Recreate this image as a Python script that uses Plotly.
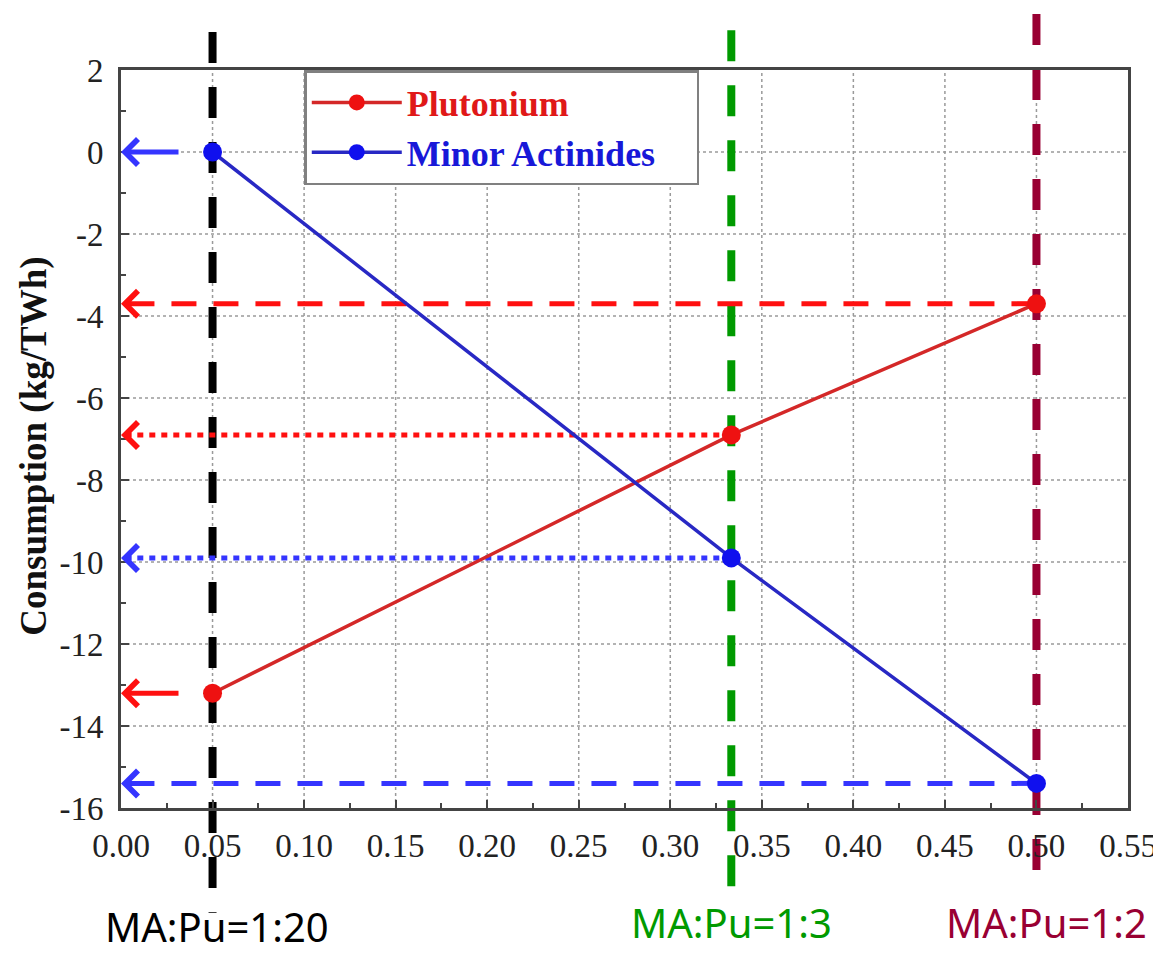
import plotly.graph_objects as go

# ---- data ----
ratio = [0.05, 1/3, 0.5]
plutonium = [-13.2, -6.9, -3.7]
minor_actinides = [0.0, -9.9, -15.4]
ratio_labels = ["MA:Pu=1:20", "MA:Pu=1:3", "MA:Pu=1:2"]
x_ticks = [0.00, 0.05, 0.10, 0.15, 0.20, 0.25, 0.30, 0.35, 0.40, 0.45, 0.50, 0.55]
y_ticks = [2, 0, -2, -4, -6, -8, -10, -12, -14, -16]

# ---- styles ----
RED_LINE, RED_MK = "#d42828", "#ee1111"
BLUE_LINE, BLUE_MK = "#2828c4", "#1010ee"
ARROW_RED, ARROW_BLUE = "#ff1010", "#3535ff"
VCOLORS = ["#000000", "#009a00", "#990033"]
VTOP = [1.0515, 1.054, 1.076]
VBOT = [-0.142, -0.108, -0.108]
LABEL_X_SHIFT = [4, 0, 10]
LABEL_Y = [-0.2, -0.195, -0.195]
GRID = dict(color="#9a9a9a", width=1.5, dash="dot")

fig = go.Figure()

fig.add_trace(go.Scatter(
    x=ratio, y=plutonium, mode="lines+markers",
    name="<span style='color:#e01818'><b>Plutonium</b></span>",
    line=dict(color=RED_LINE, width=3.5),
    marker=dict(color=RED_MK, size=19),
))
fig.add_trace(go.Scatter(
    x=ratio, y=minor_actinides, mode="lines+markers",
    name="<span style='color:#1818d8'><b>Minor Actinides</b></span>&nbsp;&nbsp;&nbsp;&nbsp;",
    line=dict(color=BLUE_LINE, width=3.5),
    marker=dict(color=BLUE_MK, size=19),
))

shapes = []
# grid lines (drawn first, lowest)
for xv in x_ticks[1:-1]:
    shapes.append(dict(type="line", xref="x", yref="paper", x0=xv, x1=xv, y0=0, y1=1,
                       line=GRID, layer="below"))
for yv in y_ticks[1:-1]:
    shapes.append(dict(type="line", xref="paper", yref="y", x0=0, x1=1, y0=yv, y1=yv,
                       line=GRID, layer="below"))

# vertical ratio lines
for xv, col, t, b in zip(ratio, VCOLORS, VTOP, VBOT):
    shapes.append(dict(type="line", xref="x", yref="paper", x0=xv, x1=xv, y0=t, y1=b,
                       line=dict(color=col, width=8, dash="31px,24px"), layer="below"))

# horizontal guide lines from points to the y axis
guides = [
    (ratio[2], plutonium[2], ARROW_RED, "25px,17px"),
    (ratio[1], plutonium[1], ARROW_RED, "6px,6px"),
    (ratio[1], minor_actinides[1], ARROW_BLUE, "6px,6px"),
    (ratio[2], minor_actinides[2], ARROW_BLUE, "25px,17px"),
]
annotations = []
for xv, yv, col, dash in guides:
    shapes.append(dict(type="line", xref="x", yref="y", x0=xv, x1=0, y0=yv, y1=yv,
                       line=dict(color=col, width=5, dash=dash), layer="below"))
    annotations.append(dict(x=0, y=yv, xref="x", yref="y", ax=12, ay=0, text="",
                            showarrow=True, arrowhead=4, arrowsize=1.0, arrowwidth=5,
                            arrowcolor=col, standoff=0))

# short solid arrows for the first points
for yv, col in [(minor_actinides[0], ARROW_BLUE), (plutonium[0], ARROW_RED)]:
    annotations.append(dict(x=0, y=yv, xref="x", yref="y", ax=59, ay=0, text="",
                            showarrow=True, arrowhead=4, arrowsize=1.0, arrowwidth=5,
                            arrowcolor=col, standoff=0))

# ratio labels
for xv, lab, col, dx, ly in zip(ratio, ratio_labels, VCOLORS, LABEL_X_SHIFT, LABEL_Y):
    annotations.append(dict(x=xv, y=ly, xref="x", yref="paper", text=lab, showarrow=False,
                            xanchor="center", yanchor="bottom", xshift=dx,
                            font=dict(family="Noto Sans", size=40, color=col)))

# y-axis title
annotations.append(dict(x=-0.086, y=0.49, xref="paper", yref="paper",
                        text="<b>Consumption (kg/TWh)</b>", textangle=-90, showarrow=False,
                        xanchor="center", yanchor="middle",
                        font=dict(family="Liberation Serif", size=37, color="#111111")))

axis_common = dict(
    showline=True, linecolor="#444444", linewidth=3, mirror=True,
    ticks="inside", ticklen=8, tickwidth=2, tickcolor="#444444",
    showgrid=False, zeroline=False,
    tickfont=dict(family="Liberation Serif", size=33, color="#222222"),
    minor=dict(ticks="inside", ticklen=5, tickwidth=2, tickcolor="#444444", showgrid=False),
)

fig.update_layout(
    width=1161, height=955,
    margin=dict(l=113, r=33, t=62, b=155),
    paper_bgcolor="white", plot_bgcolor="white",
    xaxis=dict(range=[0, 0.55], tickvals=x_ticks, ticktext=[f"{v:.2f}" for v in x_ticks],
               ticklabelstandoff=6, **axis_common),
    yaxis=dict(range=[-16, 2], tickvals=y_ticks, ticktext=[str(v) for v in y_ticks],
               ticklabelstandoff=8, **axis_common),
    showlegend=True,
    legend=dict(x=0.182, y=1.0, xanchor="left", yanchor="top",
                bgcolor="white", bordercolor="#808080", borderwidth=2.5,
                itemwidth=90, font=dict(family="Liberation Serif", size=36),
                tracegroupgap=0),
    shapes=shapes,
    annotations=annotations,
)
fig.update_xaxes(minor=dict(dtick=0.025))
fig.update_yaxes(minor=dict(dtick=1))

fig.write_html("out.html")
